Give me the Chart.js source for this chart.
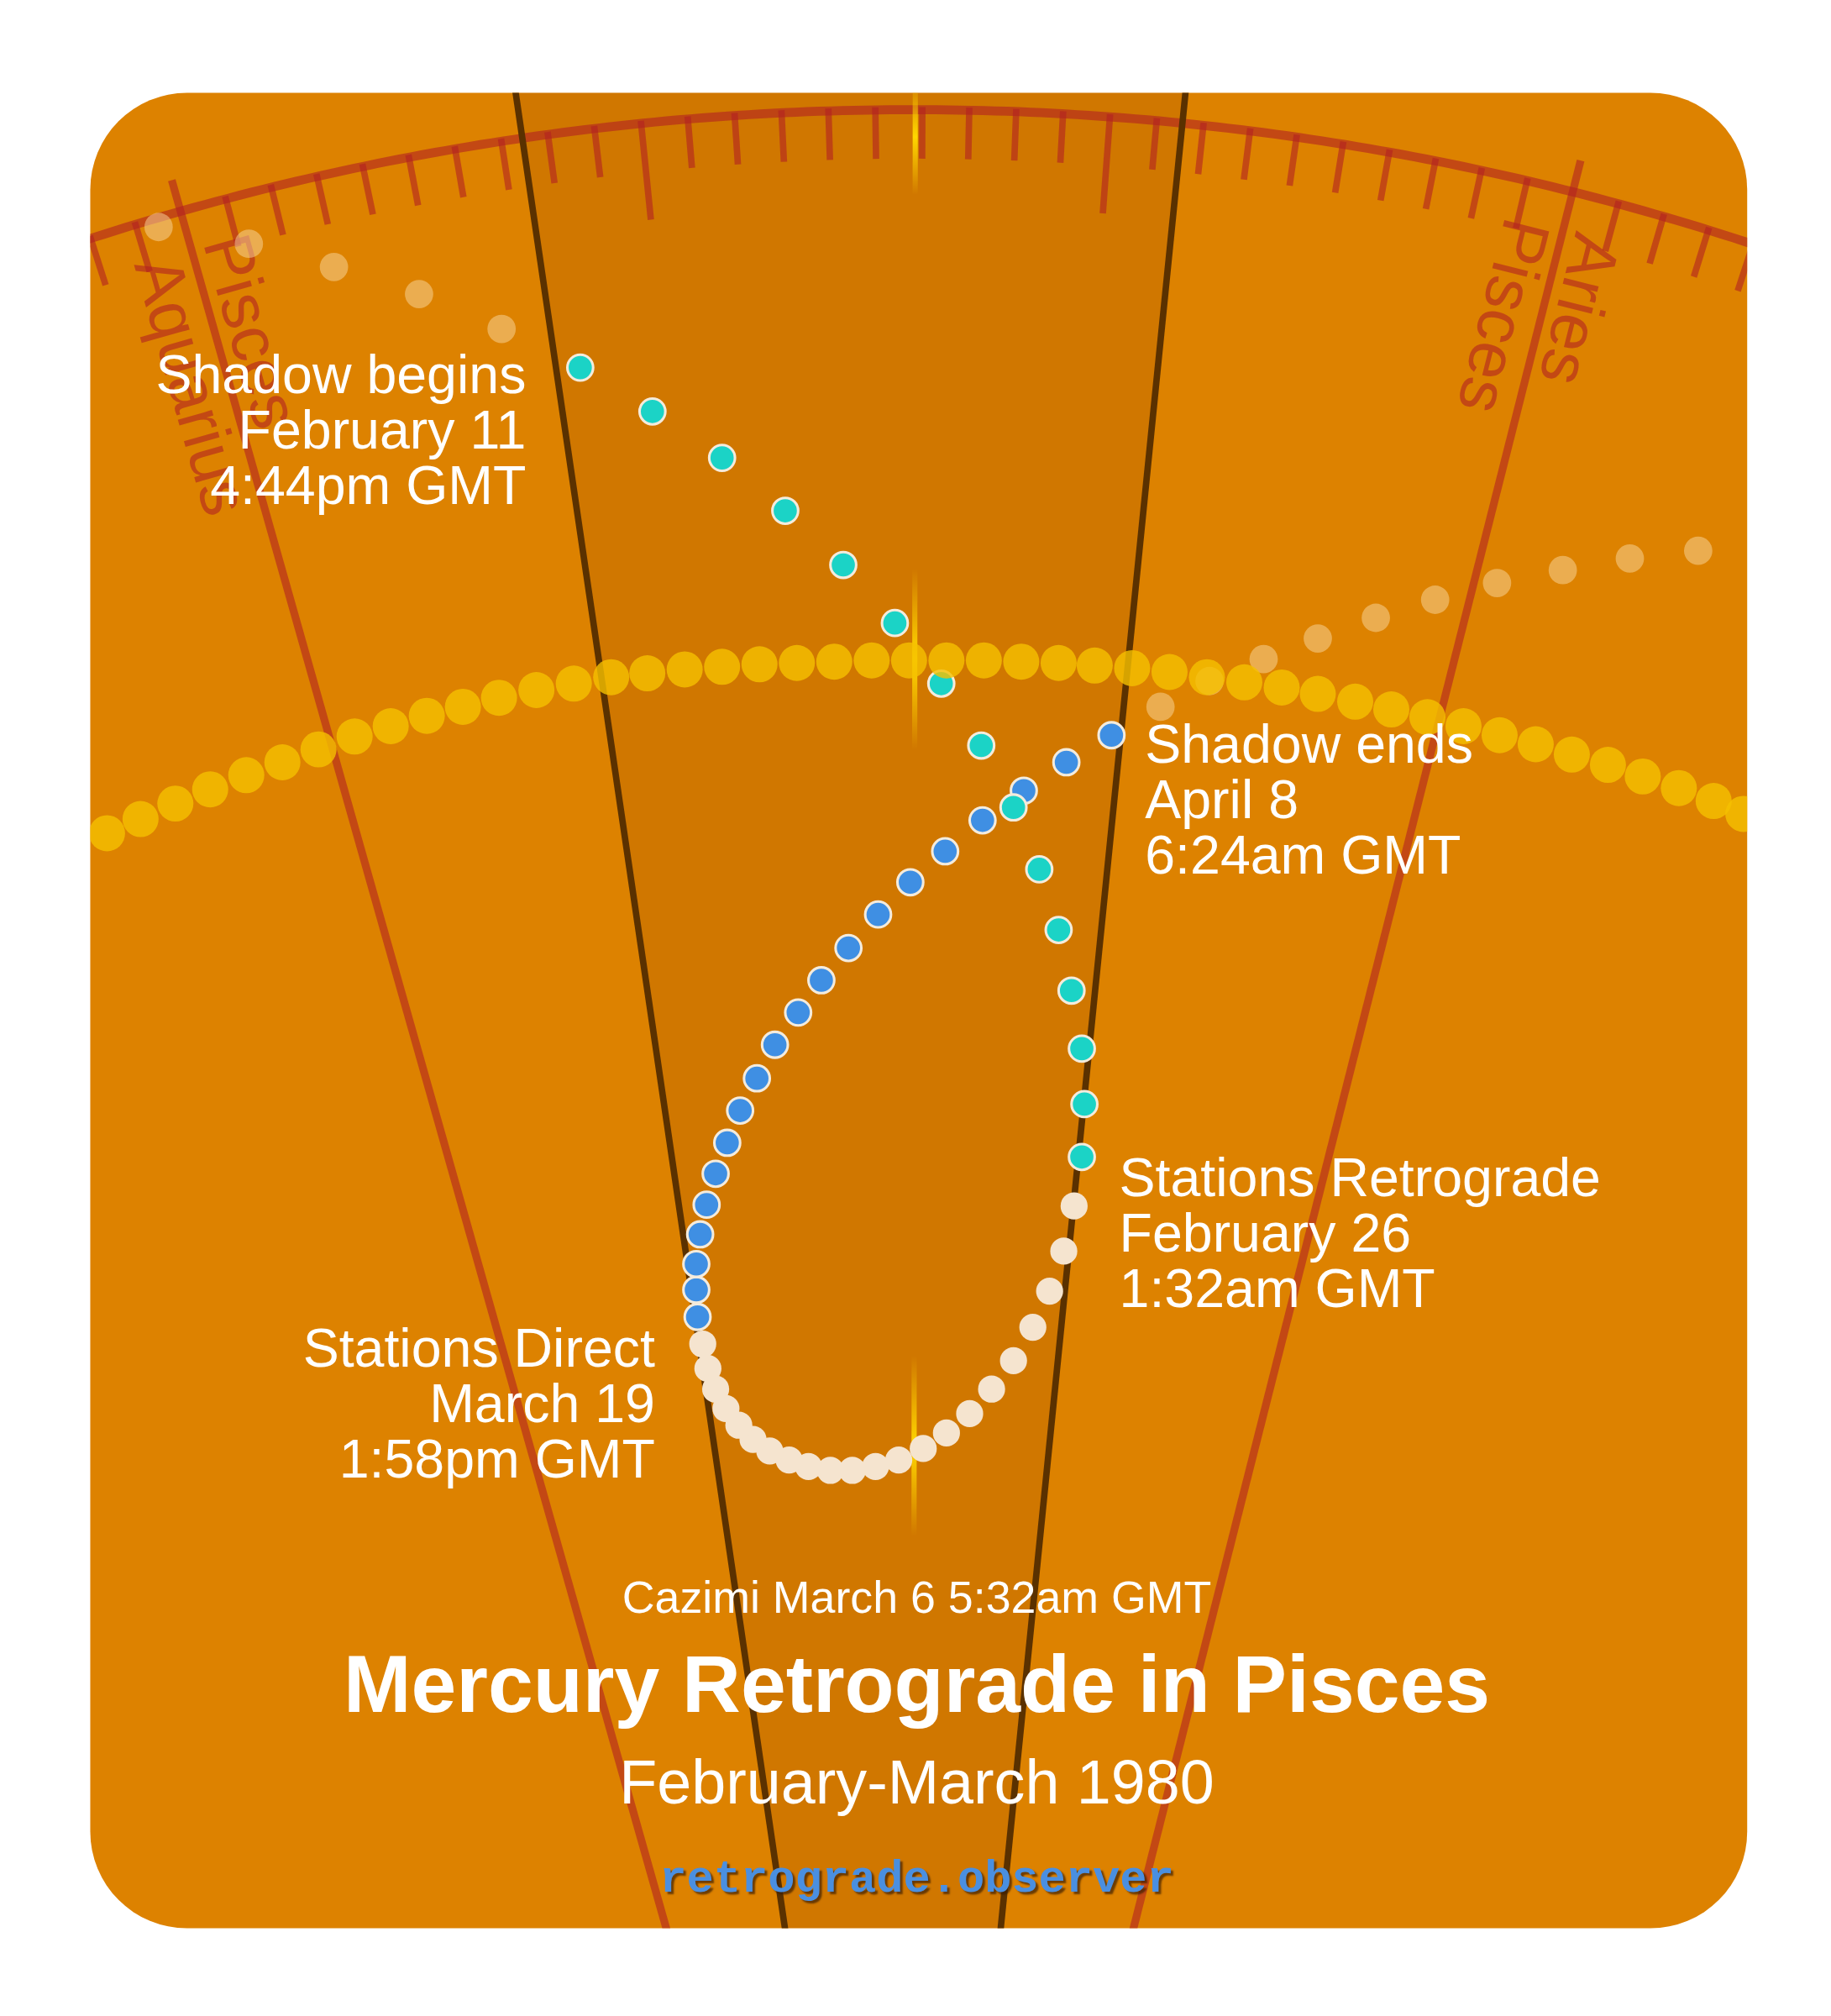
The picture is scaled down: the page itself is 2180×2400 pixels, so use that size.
<!DOCTYPE html>
<html><head><meta charset="utf-8">
<script src="https://cdn.jsdelivr.net/npm/chart.js@4"></script>
<style>html,body{margin:0;padding:0;background:#fff}canvas{display:block}</style>
</head><body>
<canvas id="c" width="2180" height="2400"></canvas>
<script>
// Data in reference-display units (x 0..1420, y 0..1563, y downward)
const sunX = [83,109,136,163,191,219,247,275,303,331,359,387,416,445,474,502,531,560,589,618,647,676,705,734,763,792,821,849,878,907,936,965,994,1022,1051,1079,1107,1135,1163,1191,1219,1247,1274,1302,1329,1352];
const sunY = [646,635,623,612,601,591,581,571,563,555,548,541,535,530,525,522,519,517,515,514,513,512,512,512,512,513,514,516,518,521,525,529,533,538,544,550,556,563,570,577,585,593,602,611,621,631];
const fadedBeforeX = [123,193,259,325,389];
const fadedBeforeY = [176,189,207,228,255];
const fadedAfterX = [900,938,980,1022,1067,1113,1161,1212,1264,1317];
const fadedAfterY = [548,528,511,495,479,465,452,442,433,427];
const preShadowX = [450,506,560,609,654,694,730,761,786,806,821,831,839,841,839];
const preShadowY = [285,319,355,396,438,483,530,578,626,674,721,768,813,856,897];
const retroX = [833,825,814,801,786,769,752,734,716,697,679,661,644,627,612,597,584,573,563,555,549,545];
const retroY = [935,970,1001,1029,1055,1077,1096,1111,1123,1132,1137,1140,1140,1137,1132,1125,1116,1105,1092,1077,1061,1042];
const postShadowX = [541,540,540,543,548,555,564,574,587,601,619,637,658,681,706,733,762,794,827,862];
const postShadowY = [1021,1000,980,957,934,910,886,861,836,810,785,760,735,709,684,660,636,613,591,570];
// Ecliptic geometry: angles (deg from vertical) about a far centre
const signBoundaryAngles = [-15.8, 14.2];
const shadowAngles = [-8.35, 5.75];
const cazimiAngle = 0.05;
const signLabels = [
  {text:'Aquarius', angle:-15.8, side:'left'},
  {text:'Pisces', angle:-15.8, side:'right'},
  {text:'Pisces', angle:14.2, side:'left'},
  {text:'Aries', angle:14.2, side:'right'}
];
const eventLabels = [
  {lines:['Shadow begins','February 11','4:44pm GMT'], x:408, y:293, align:'right'},
  {lines:['Shadow ends','April 8','6:24am GMT'], x:888, y:580, align:'left'},
  {lines:['Stations Retrograde','February 26','1:32am GMT'], x:868, y:916, align:'left'},
  {lines:['Stations Direct','March 19','1:58pm GMT'], x:508, y:1048, align:'right'}
];
const cazimiText = 'Cazimi March 6 5:32am GMT';
const titleText = 'Mercury Retrograde in Pisces';
const subtitleText = 'February-March 1980';
const siteText = 'retrograde.observer';

const K = 2180/1420;
const CX = 708, CY = 2171, R0 = 2086;
const pts = (xs, ys) => xs.map((x,i)=>({x, y:ys[i]}));
const FONT = '"Liberation Sans", Arial, sans-serif';

let X, Y;
function P(a, r){ const t=a*Math.PI/180; return [X.getPixelForValue(CX + r*Math.sin(t)), Y.getPixelForValue(CY - r*Math.cos(t))]; }
function card(ctx){
  const x=X.getPixelForValue(70), y=Y.getPixelForValue(72), w=X.getPixelForValue(1355)-x, h=Y.getPixelForValue(1495)-y, r=75*K;
  ctx.beginPath(); ctx.roundRect(x,y,w,h,r);
}
const bgPlugin = {
  id:'bg',
  beforeDatasetsDraw(chart){
    const ctx=chart.ctx; X=chart.scales.x; Y=chart.scales.y;
    ctx.save();
    card(ctx); ctx.fillStyle='#DD8200'; ctx.fill(); ctx.clip();
    ctx.beginPath();
    let p=P(shadowAngles[0],2400); ctx.moveTo(...p);
    p=P(shadowAngles[1],2400); ctx.lineTo(...p);
    p=P(shadowAngles[1],0); ctx.lineTo(...p);
    ctx.closePath(); ctx.fillStyle='rgba(120,50,0,0.13)'; ctx.fill();
    ctx.strokeStyle='rgba(178,34,34,0.6)'; ctx.lineWidth=6*K;
    signBoundaryAngles.forEach(a=>{ctx.beginPath();ctx.moveTo(...P(a,R0+25));ctx.lineTo(...P(a,500));ctx.stroke();});
    ctx.beginPath();
    for(let a=-22;a<=22;a+=0.25){const q=P(a,R0); a===-22?ctx.moveTo(...q):ctx.lineTo(...q);}
    ctx.lineWidth=7*K; ctx.stroke();
    ctx.lineWidth=5*K;
    for(let n=-8;n<=38;n++){
      if(n===0||n===30) continue;
      const a=signBoundaryAngles[0]+n, len=(n%10===0)?75:38;
      ctx.beginPath();ctx.moveTo(...P(a,R0+2));ctx.lineTo(...P(a,R0-len));ctx.stroke();
    }
    ctx.fillStyle='rgba(178,34,34,0.6)';
    ctx.font=`${52*K}px ${FONT}`;
    signLabels.forEach(l=>{
      const t=l.angle*Math.PI/180, th=Math.atan2(Math.cos(t),-Math.sin(t));
      const r = l.side==='left' ? R0-30 : R0-28;
      const q=P(l.angle,r);
      ctx.save(); ctx.translate(...q); ctx.rotate(th);
      ctx.textAlign='left'; ctx.textBaseline='alphabetic';
      if(l.side==='left') ctx.fillText(l.text,0,46*K);
      else ctx.fillText(l.text,0,-10*K);
      ctx.restore();
    });
    ctx.strokeStyle='#5A3100'; ctx.lineWidth=5*K;
    shadowAngles.forEach(a=>{ctx.beginPath();ctx.moveTo(...P(a,2400));ctx.lineTo(...P(a,500));ctx.stroke();});
    [[2110,2020],[1730,1590],[1120,980]].forEach(([r1,r2])=>{
      const a=P(cazimiAngle,r1), b=P(cazimiAngle,r2);
      const g=ctx.createLinearGradient(a[0],a[1],b[0],b[1]);
      g.addColorStop(0,'rgba(255,215,0,0)');g.addColorStop(0.5,'rgba(255,215,0,1)');g.addColorStop(1,'rgba(255,215,0,0)');
      ctx.strokeStyle=g; ctx.lineWidth=4*K; ctx.beginPath(); ctx.moveTo(...a); ctx.lineTo(...b); ctx.stroke();
    });
    ctx.restore();
    ctx.save(); card(ctx); ctx.clip();
  },
  afterDatasetsDraw(chart){
    const ctx=chart.ctx;
    ctx.restore();
    ctx.save();
    ctx.fillStyle='#fff'; ctx.textBaseline='middle';
    ctx.font=`${42*K}px ${FONT}`;
    eventLabels.forEach(l=>{
      ctx.textAlign=l.align;
      l.lines.forEach((s,i)=>ctx.fillText(s,X.getPixelForValue(l.x),Y.getPixelForValue(l.y+i*43)));
    });
    ctx.textAlign='center';
    const cx=X.getPixelForValue(711);
    ctx.font=`${35*K}px ${FONT}`;
    ctx.fillText(cazimiText,cx,Y.getPixelForValue(1241));
    ctx.font=`bold ${63*K}px ${FONT}`;
    ctx.fillText(titleText,cx,Y.getPixelForValue(1310));
    ctx.font=`${48*K}px ${FONT}`;
    ctx.fillText(subtitleText,cx,Y.getPixelForValue(1385));
    ctx.font=`bold ${35*K}px "Liberation Mono", "Courier New", monospace`;
    ctx.shadowColor='rgba(60,30,0,0.7)'; ctx.shadowOffsetX=2*K; ctx.shadowOffsetY=2*K; ctx.shadowBlur=2;
    ctx.fillStyle='#4A8FE0';
    ctx.fillText(siteText,cx,Y.getPixelForValue(1458));
    ctx.restore();
  }
};

new Chart(document.getElementById('c'), {
  type:'scatter',
  data:{datasets:[
    {data:pts(sunX,sunY), backgroundColor:'rgba(245,192,0,0.8)', borderWidth:0, pointRadius:14*K},
    {data:pts(fadedBeforeX,fadedBeforeY), backgroundColor:'rgba(250,215,160,0.5)', borderWidth:0, pointRadius:11*K},
    {data:pts(fadedAfterX,fadedAfterY), backgroundColor:'rgba(250,215,160,0.5)', borderWidth:0, pointRadius:11*K},
    {data:pts(preShadowX,preShadowY), backgroundColor:'#1BD3C6', borderColor:'#F4EBDC', borderWidth:2*K, pointRadius:10*K},
    {data:pts(retroX,retroY), backgroundColor:'#F5E4CF', borderColor:'#F5E4CF', borderWidth:0, pointRadius:10.5*K},
    {data:pts(postShadowX,postShadowY), backgroundColor:'#3F8FE3', borderColor:'#F4EBDC', borderWidth:2*K, pointRadius:10*K}
  ]},
  options:{
    responsive:false, animation:false, devicePixelRatio:1,
    layout:{padding:0, autoPadding:false},
    plugins:{legend:{display:false},tooltip:{enabled:false}},
    scales:{
      x:{type:'linear',display:false,min:0,max:1420},
      y:{type:'linear',display:false,min:0,max:1563,reverse:true}
    }
  },
  plugins:[bgPlugin]
});
</script>
</body></html>
